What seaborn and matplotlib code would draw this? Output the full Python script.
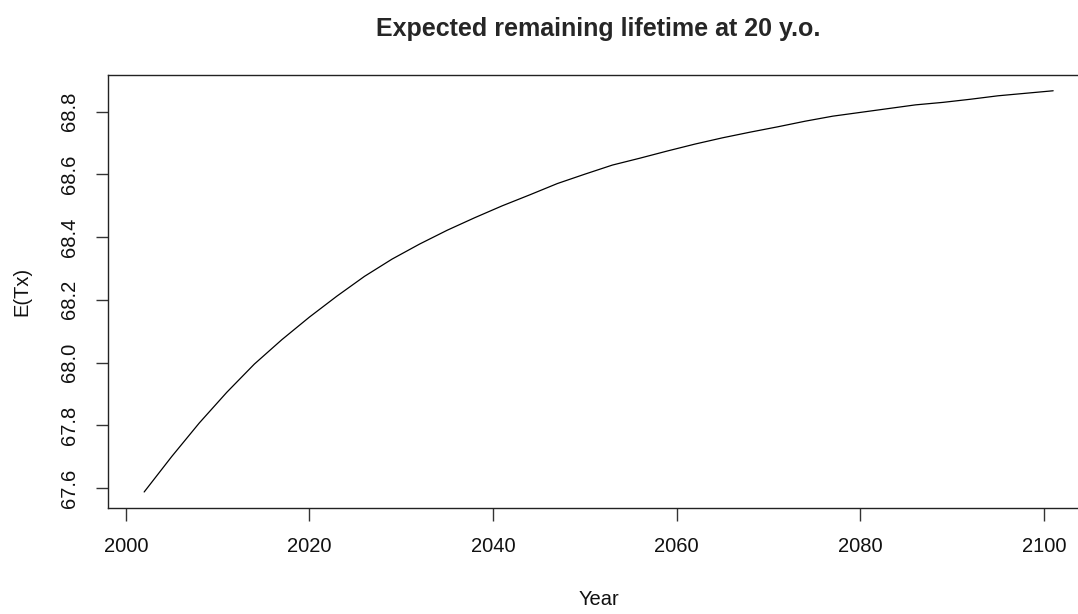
import matplotlib
matplotlib.use("Agg")
import matplotlib.pyplot as plt
import seaborn as sns
import pandas as pd

# Projected expected remaining lifetime at age 20, by calendar year
years = [2002, 2005, 2008, 2011, 2014, 2017, 2020, 2023, 2026, 2029, 2032, 2035,
         2038, 2041, 2044, 2047, 2050, 2053, 2056, 2059, 2062, 2065, 2068, 2071,
         2074, 2077, 2080, 2083, 2086, 2089, 2092, 2095, 2098, 2101]
expected_tx = [67.587, 67.700, 67.807, 67.905, 67.995, 68.073, 68.145, 68.212,
               68.275, 68.330, 68.378, 68.422, 68.462, 68.500, 68.535, 68.571,
               68.601, 68.630, 68.652, 68.675, 68.697, 68.717, 68.735, 68.752,
               68.770, 68.786, 68.798, 68.810, 68.822, 68.830, 68.840, 68.851,
               68.859, 68.867]
x_ticks = [2000, 2020, 2040, 2060, 2080, 2100]
y_ticks = [67.6, 67.8, 68.0, 68.2, 68.4, 68.6, 68.8]

df = pd.DataFrame({"Year": years, "E(Tx)": expected_tx})

sns.set_style("white")
plt.rcParams["font.family"] = ["Liberation Sans", "DejaVu Sans"]

fig = plt.figure(figsize=(10.78, 6.14), dpi=100)
ax = fig.add_axes([0.1, 0.1726, 0.9107, 0.7057])

sns.lineplot(data=df, x="Year", y="E(Tx)", color="black", linewidth=0.9, ax=ax)

# Base-graphics style: data range padded by 4% on each side
xr = max(years) - min(years)
yr = max(expected_tx) - min(expected_tx)
ax.set_xlim(min(years) - 0.04 * xr, max(years) + 0.04 * xr)
ax.set_ylim(min(expected_tx) - 0.04 * yr, max(expected_tx) + 0.04 * yr)

ax.set_xticks(x_ticks)
ax.set_xticklabels([str(t) for t in x_ticks])
ax.set_yticks(y_ticks)
ax.set_yticklabels([f"{t:.1f}" for t in y_ticks], rotation=90, va="center")

for s in ax.spines.values():
    s.set_visible(True)
    s.set_color("#222222")
    s.set_linewidth(1.0)

ax.tick_params(axis="both", direction="out", length=9, width=1.0,
               color="#333333", labelsize=14.5, labelcolor="#111111", pad=12)
ax.tick_params(axis="x", bottom=True)
ax.tick_params(axis="y", left=True)

ax.set_xlabel("Year", fontsize=14.5, color="#111111", labelpad=24)
ax.set_ylabel("E(Tx)", fontsize=14.5, color="#111111", labelpad=20)
fig.text(0.5545, 0.953, "Expected remaining lifetime at 20 y.o.",
         ha="center", va="center", fontsize=18, fontweight="bold")

fig.savefig("out.png", dpi=100)
